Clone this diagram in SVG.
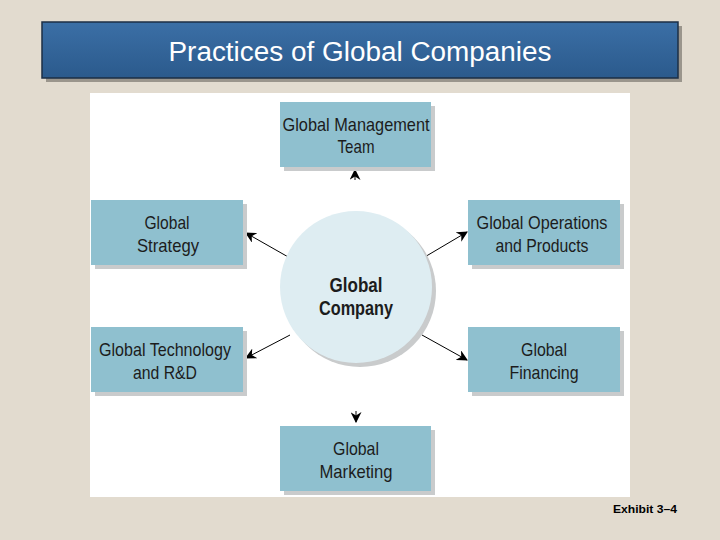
<svg xmlns="http://www.w3.org/2000/svg" width="720" height="540" viewBox="0 0 720 540">
<defs>
<linearGradient id="tg" x1="0" y1="0" x2="0" y2="1">
<stop offset="0" stop-color="#3b6fa6"/>
<stop offset="1" stop-color="#2b5a8c"/>
</linearGradient>
<marker id="ah" viewBox="0 0 10 10" refX="9" refY="5" markerWidth="11" markerHeight="11" orient="auto" markerUnits="userSpaceOnUse">
<path d="M0,0 L10,5 L0,10 L3,5 Z" fill="#000"/>
</marker>
</defs>
<style>
.box{fill:#8fc0cf}
.sh{fill:#c9cbcc}
.lbl{font-family:"Liberation Sans Narrow","Liberation Sans",Arial,sans-serif;font-size:19px;fill:#1c1c1c;text-anchor:middle}
.clbl{font-family:"Liberation Sans Narrow","Liberation Sans",Arial,sans-serif;font-size:20px;font-weight:bold;fill:#1c1c1c;text-anchor:middle}
.conn{stroke:#000;stroke-width:1;fill:none;marker-end:url(#ah)}
</style>
<rect width="720" height="540" fill="#e2dbcf"/>
<g id="title">
<rect x="46" y="26" width="636" height="56" fill="#9a958c"/>
<rect x="42" y="22" width="636" height="56" fill="url(#tg)" stroke="#1d2f45" stroke-width="1.5"/>
<text x="360" y="61" font-family="Liberation Sans,Arial,sans-serif" font-size="27" fill="#fff" text-anchor="middle" textLength="383" lengthAdjust="spacingAndGlyphs">Practices of Global Companies</text>
</g>
<rect x="90" y="93" width="540" height="404" fill="#fff"/>
<g id="connectors">
<line x1="355" y1="180" x2="355" y2="170" class="conn"/>
<line x1="290" y1="258" x2="246" y2="233" class="conn"/>
<line x1="423" y1="258" x2="467" y2="232" class="conn"/>
<line x1="290" y1="335" x2="246" y2="358" class="conn"/>
<line x1="422" y1="335" x2="467" y2="360" class="conn"/>
<line x1="356" y1="411" x2="356" y2="422" class="conn"/>
</g>
<g id="center">
<circle cx="360" cy="291" r="76" fill="#c9cbcc"/>
<circle cx="356" cy="287" r="76" fill="#deedf2"/>
<text x="356" y="292" class="clbl" textLength="53" lengthAdjust="spacingAndGlyphs">Global</text>
<text x="356" y="315" class="clbl" textLength="74" lengthAdjust="spacingAndGlyphs">Company</text>
</g>
<g id="n-top">
<rect x="284" y="106" width="151" height="65" class="sh"/>
<rect x="280" y="102" width="151" height="65" class="box"/>
<text x="356" y="131" class="lbl" textLength="147" lengthAdjust="spacingAndGlyphs">Global Management</text>
<text x="356" y="153" class="lbl" textLength="37" lengthAdjust="spacingAndGlyphs">Team</text>
</g>
<g id="n-strategy">
<rect x="95" y="204" width="152" height="65" class="sh"/>
<rect x="91" y="200" width="152" height="65" class="box"/>
<text x="167" y="229" class="lbl" textLength="45" lengthAdjust="spacingAndGlyphs">Global</text>
<text x="168" y="252" class="lbl" textLength="62" lengthAdjust="spacingAndGlyphs">Strategy</text>
</g>
<g id="n-operations">
<rect x="472" y="204" width="152" height="65" class="sh"/>
<rect x="468" y="200" width="152" height="65" class="box"/>
<text x="542" y="229" class="lbl" textLength="131" lengthAdjust="spacingAndGlyphs">Global Operations</text>
<text x="542" y="252" class="lbl" textLength="93" lengthAdjust="spacingAndGlyphs">and Products</text>
</g>
<g id="n-technology">
<rect x="95" y="331" width="152" height="65" class="sh"/>
<rect x="91" y="327" width="152" height="65" class="box"/>
<text x="165" y="356" class="lbl" textLength="132" lengthAdjust="spacingAndGlyphs">Global Technology</text>
<text x="165" y="379" class="lbl" textLength="64" lengthAdjust="spacingAndGlyphs">and R&amp;D</text>
</g>
<g id="n-financing">
<rect x="472" y="331" width="152" height="65" class="sh"/>
<rect x="468" y="327" width="152" height="65" class="box"/>
<text x="544" y="356" class="lbl" textLength="46" lengthAdjust="spacingAndGlyphs">Global</text>
<text x="544" y="379" class="lbl" textLength="69" lengthAdjust="spacingAndGlyphs">Financing</text>
</g>
<g id="n-marketing">
<rect x="284" y="430" width="151" height="65" class="sh"/>
<rect x="280" y="426" width="151" height="65" class="box"/>
<text x="356" y="455" class="lbl" textLength="46" lengthAdjust="spacingAndGlyphs">Global</text>
<text x="356" y="478" class="lbl" textLength="73" lengthAdjust="spacingAndGlyphs">Marketing</text>
</g>
<text x="645" y="513" font-family="Liberation Sans,Arial,sans-serif" font-size="11.5" font-weight="bold" fill="#000" text-anchor="middle" textLength="64" lengthAdjust="spacingAndGlyphs">Exhibit 3–4</text>
</svg>
